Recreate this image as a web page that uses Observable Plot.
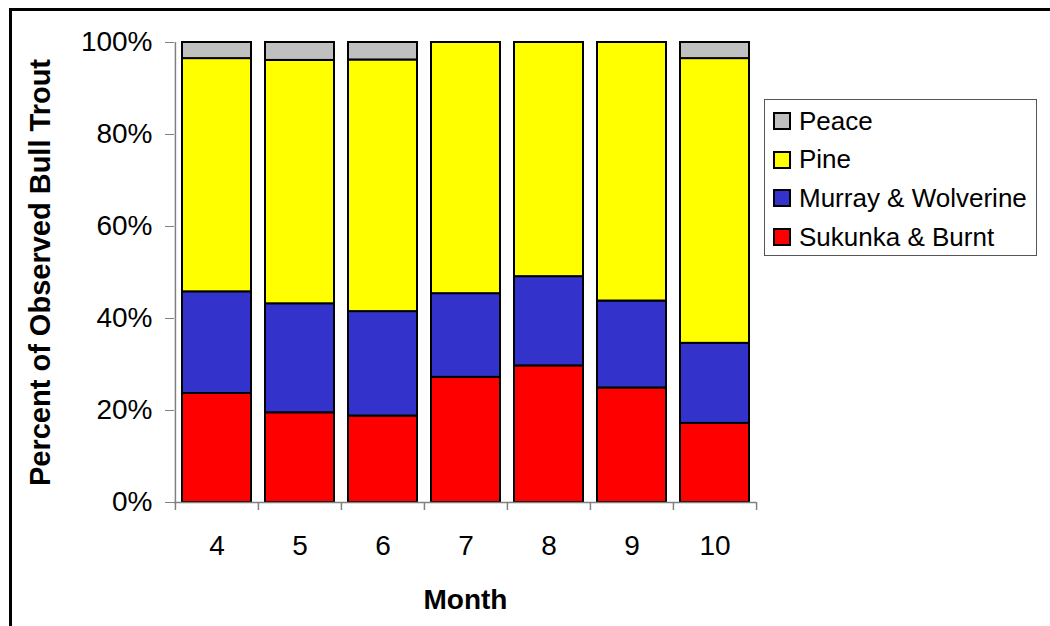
<!DOCTYPE html>
<html>
<head>
<meta charset="utf-8">
<script src="https://cdn.jsdelivr.net/npm/d3@7"></script>
<script src="https://cdn.jsdelivr.net/npm/@observablehq/plot@0.6"></script>
<style>
  body { margin: 0; background: #fff; font-family: "Liberation Sans", Arial, sans-serif; }
  #wrap { position: relative; width: 1050px; height: 626px; overflow: hidden; background: #fff; }
  #border { position: absolute; left: 9px; top: 8px; width: 1100px; height: 700px; border-top: 3px solid #000; border-left: 3px solid #000; pointer-events: none; }
  #legend { position: absolute; left: 764px; top: 99px; width: 273px; height: 157px; border: 1px solid #555; box-sizing: border-box; background: #fff; }
  .row { position: absolute; left: 8px; height: 30px; display: flex; align-items: center; font-size: 26px; color: #000; white-space: nowrap; }
  .sw { width: 14px; height: 14px; border: 2px solid #000; margin-right: 8px; }
</style>
</head>
<body>
<div id="wrap">
  <div id="chart"></div>
  <div id="border"></div>
  <div id="legend"></div>
</div>
<script>
const months = [4, 5, 6, 7, 8, 9, 10];
const seriesNames = ["Sukunka & Burnt", "Murray & Wolverine", "Pine", "Peace"];
const seriesColors = ["#FF0000", "#3333CC", "#FFFF00", "#C0C0C0"];
const sukunka = [23.7, 19.5, 18.8, 27.2, 29.7, 24.9, 17.2];
const murray  = [22.1, 23.7, 22.7, 18.2, 19.4, 18.9, 17.4];
const pine    = [50.7, 52.9, 54.7, 54.6, 50.9, 56.2, 61.9];
const peace   = [3.5, 3.9, 3.8, 0, 0, 0, 3.5];
const yTicks = [0, 20, 40, 60, 80, 100];
const xTitle = "Month";
const yTitle = "Percent of Observed Bull Trout";

const seriesValues = [sukunka, murray, pine, peace];
const data = [];
months.forEach((m, i) => {
  seriesNames.forEach((s, j) => {
    data.push({month: m, series: s, value: seriesValues[j][i]});
  });
});

const W = 1050, H = 626;
const mL = 174, mR = 294, mT = 42, mB = 124;
const step = (W - mL - mR) / months.length;
const axisGray = "#808080";

const chart = Plot.plot({
  width: W,
  height: H,
  marginLeft: mL,
  marginRight: mR,
  marginTop: mT,
  marginBottom: mB,
  style: {fontFamily: "'Liberation Sans', Arial, sans-serif", background: "transparent"},
  x: {type: "band", domain: months, paddingInner: 0.17, paddingOuter: 0.085},
  y: {domain: [0, 100]},
  color: {domain: seriesNames, range: seriesColors},
  marks: [
    Plot.barY(data.filter(d => d.value > 0), {
      x: "month", y: "value", fill: "series", order: seriesNames,
      stroke: "#000", strokeWidth: 2
    }),
    Plot.ruleY([0], {stroke: axisGray, strokeWidth: 1.5}),
    Plot.ruleX([months[0]], {dx: -step / 2, stroke: axisGray, strokeWidth: 1.5}),
    Plot.ruleX(months, {dx: -step / 2, y1: 0, y2: 0, insetBottom: -8, stroke: axisGray, strokeWidth: 1.5}),
    Plot.ruleX([months[months.length - 1]], {dx: step / 2, y1: 0, y2: 0, insetBottom: -8, stroke: axisGray, strokeWidth: 1.5}),
    Plot.axisY({ticks: yTicks, tickSize: 9, tickPadding: 13, tickFormat: d => d + "%", fontSize: 28, stroke: axisGray, fill: "#000", label: null}),
    Plot.axisX({tickSize: 0, tickPadding: 33, fontSize: 28, fill: "#000", label: null}),
    Plot.text([yTitle], {text: d => d, frameAnchor: "left", textAnchor: "middle", dx: -134, rotate: -90, fontSize: 29, fontWeight: "bold", fill: "#000"}),
    Plot.text([xTitle], {text: d => d, frameAnchor: "bottom", dy: 106, fontSize: 28, fontWeight: "bold", fill: "#000"})
  ]
});
document.getElementById("chart").appendChild(chart);

const legend = document.getElementById("legend");
const legendOrder = [3, 2, 1, 0];
legendOrder.forEach((j, k) => {
  const row = document.createElement("div");
  row.className = "row";
  row.style.top = (6 + k * 38.7) + "px";
  const sw = document.createElement("div");
  sw.className = "sw";
  sw.style.background = seriesColors[j];
  const label = document.createElement("span");
  label.textContent = seriesNames[j];
  row.appendChild(sw);
  row.appendChild(label);
  legend.appendChild(row);
});
</script>
</body>
</html>
